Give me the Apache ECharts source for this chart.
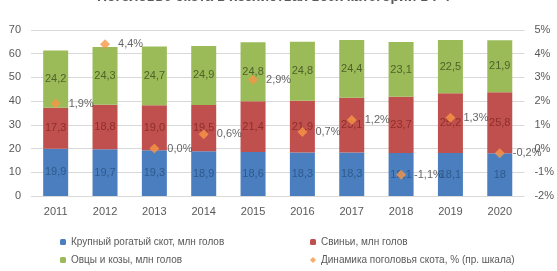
<!DOCTYPE html>
<html>
<head>
<meta charset="utf-8">
<script src="https://cdn.jsdelivr.net/npm/echarts@6/dist/echarts.min.js"></script>
<style>
  html, body { margin: 0; padding: 0; background: #fff; }
  #chart { width: 557px; height: 271px; }
</style>
</head>
<body>
<div id="chart"></div>
<script>
  // данные с картинки
  var years = ["2011", "2012", "2013", "2014", "2015", "2016", "2017", "2018", "2019", "2020"];
  var cattle = [19.9, 19.7, 19.3, 18.9, 18.6, 18.3, 18.3, 18.1, 18.1, 18];
  var pigs = [17.3, 18.8, 19.0, 19.5, 21.4, 21.9, 23.1, 23.7, 25.2, 25.8];
  var sheep = [24.2, 24.3, 24.7, 24.9, 24.8, 24.8, 24.4, 23.1, 22.5, 21.9];
  var growth = [1.9, 4.4, 0.0, 0.6, 2.9, 0.7, 1.2, -1.1, 1.3, -0.2];

  var names = [
    "Крупный рогатый скот, млн голов",
    "Свиньи, млн голов",
    "Овцы и козы, млн голов",
    "Динамика поголовья скота, % (пр. шкала)"
  ];

  var font = "'Liberation Sans Narrow', 'Liberation Sans', Arial, sans-serif";
  var comma = function (s) { return String(s).replace(".", ","); };

  function barSeries(name, data, color, textColor, fmt) {
    return {
      name: name,
      type: "bar",
      stack: "total",
      barWidth: 25,
      data: data,
      itemStyle: { color: color },
      label: {
        show: true,
        position: "inside",
        color: textColor,
        fontFamily: font,
        fontSize: 11,
        formatter: function (p) { return fmt(p.value); }
      }
    };
  }

  // одна легенда на каждый пункт, чтобы разложить их в два столбца
  function legendItem(name, left, top) {
    return {
      data: [name],
      left: left,
      top: top,
      padding: 0,
      itemWidth: 6,
      itemHeight: 6,
      itemGap: 4,
      textStyle: { color: "#595959", fontSize: 10, fontFamily: font }
    };
  }

  var chart = echarts.init(document.getElementById("chart"));
  chart.setOption({
    animation: false,
    textStyle: { fontFamily: font },
    title: {
      text: "Поголовье скота в хозяйствах всех категорий в РФ",
      left: 92,
      top: -15,
      textStyle: { fontSize: 14, fontWeight: "bold", color: "#595959", fontFamily: font }
    },
    grid: { left: 31, right: 26, top: 30, bottom: 75 },
    legend: [
      legendItem(names[0], 60, 237),
      legendItem(names[2], 60, 255),
      legendItem(names[1], 310, 237),
      legendItem(names[3], 310, 255)
    ],
    xAxis: {
      type: "category",
      data: years,
      axisLine: { show: false },
      axisTick: { show: false },
      axisLabel: { color: "#595959", fontSize: 11, margin: 10 }
    },
    yAxis: [
      {
        type: "value",
        min: 0,
        max: 70,
        interval: 10,
        axisLabel: { color: "#595959", fontSize: 11, margin: 10 },
        splitLine: { lineStyle: { color: "#D9D9D9" } }
      },
      {
        type: "value",
        min: -2,
        max: 5,
        interval: 1,
        axisLabel: { color: "#595959", fontSize: 11, margin: 10, formatter: "{value}%" },
        splitLine: { show: false }
      }
    ],
    series: [
      barSeries(names[0], cattle, "#4A7EBF", "#2E5A8E", function (v) { return comma(v); }),
      barSeries(names[1], pigs, "#C0504D", "#8E2E2B", function (v) { return comma(v.toFixed(1)); }),
      barSeries(names[2], sheep, "#9BBB59", "#4F6228", function (v) { return comma(v.toFixed(1)); }),
      {
        name: names[3],
        type: "scatter",
        yAxisIndex: 1,
        data: growth,
        symbol: "diamond",
        symbolSize: 10,
        itemStyle: { color: "#F79646" },
        z: 5,
        label: {
          show: true,
          position: "right",
          distance: 8,
          color: "#404040",
          fontSize: 11,
          fontFamily: font,
          formatter: function (p) { return comma(p.value.toFixed(1)) + "%"; }
        }
      }
    ]
  });
</script>
</body>
</html>
